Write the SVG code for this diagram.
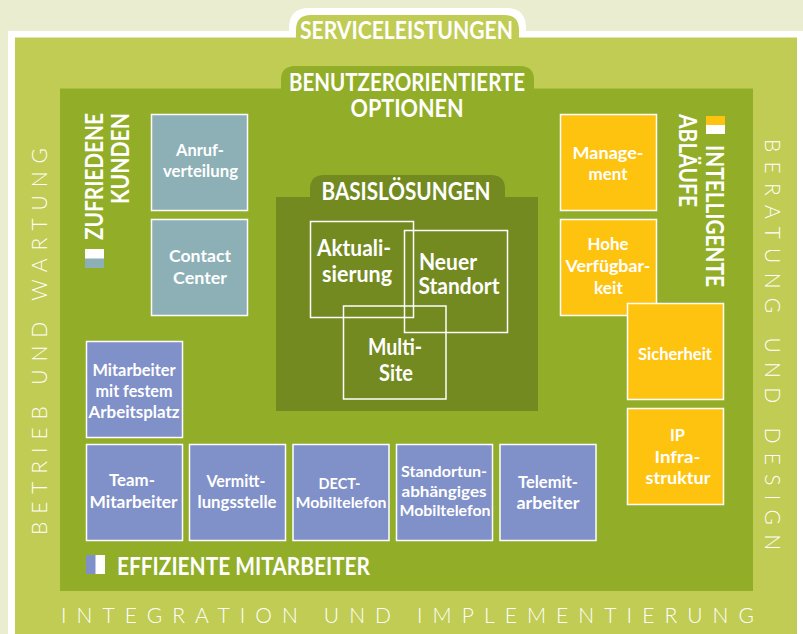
<svg xmlns="http://www.w3.org/2000/svg" width="803" height="634" viewBox="0 0 803 634">
<style>
text{font-family:"Lato","Liberation Sans",sans-serif;font-weight:700;fill:#fff;text-anchor:middle}
.h{font-size:24px}
.n{font-size:17px}
.m{font-size:15px}
.b{font-size:22px}
.t{font-size:24px;text-anchor:start}
.s{font-size:21px;font-weight:300;text-anchor:start}
.c{stroke:#fff;stroke-width:1.5}
.teal{fill:#8cb0b6}.or{fill:#fec30f}.bl{fill:#8090c8}
.box{fill:none;stroke:#fff;stroke-width:1.5}
</style>
<rect width="803" height="634" fill="#eaedcf"/>
<g id="serviceleistungen">
<path d="M8 634V31H289V28Q289 8 309 8H506Q526 8 526 28V31H803V634Z" fill="#fff"/>
<path d="M15 634V37.500H296V30Q296 15 311 15H504Q519 15 519 30V37.500H797V634Z" fill="#c1cc54"/>
<text class="h" x="406.500" y="39" textLength="213" lengthAdjust="spacingAndGlyphs">SERVICELEISTUNGEN</text>
</g>
<g id="optionen">
<path d="M60 591V88.500H281V80Q281 66 295 66H520Q534 66 534 80V88.500H753V591Z" fill="#92ae29"/>
<text class="h" x="407" y="91" textLength="236" lengthAdjust="spacingAndGlyphs">BENUTZERORIENTIERTE</text>
<text class="h" x="407" y="117" textLength="113" lengthAdjust="spacingAndGlyphs">OPTIONEN</text>
</g>
<g id="basisloesungen">
<path d="M276 411V197H310V189Q310 175 324 175H491Q505 175 505 189V197H538V411Z" fill="#738a20"/>
<text class="h" x="406" y="200" textLength="169" lengthAdjust="spacingAndGlyphs">BASISLÖSUNGEN</text>
</g>
<g id="aktualisierung"><rect class="box" x="310.500" y="221.500" width="103" height="96"/>
<text class="b" x="354" y="256" textLength="74" lengthAdjust="spacingAndGlyphs">Aktuali-</text><text class="b" x="357" y="282" textLength="70" lengthAdjust="spacingAndGlyphs">sierung</text></g>
<g id="neuer-standort"><rect class="box" x="404.500" y="230.500" width="103" height="102"/>
<text class="b" x="448" y="270" textLength="58" lengthAdjust="spacingAndGlyphs">Neuer</text><text class="b" x="459" y="294" textLength="81" lengthAdjust="spacingAndGlyphs">Standort</text></g>
<g id="multi-site"><rect class="box" x="343.500" y="306" width="102.500" height="93"/>
<text class="b" x="395" y="355" textLength="54" lengthAdjust="spacingAndGlyphs">Multi-</text><text class="b" x="396" y="381" textLength="34" lengthAdjust="spacingAndGlyphs">Site</text></g>

<g id="anrufverteilung"><rect class="c teal" x="151.500" y="114.500" width="96" height="96"/>
<text class="n" x="200" y="156" textLength="48" lengthAdjust="spacingAndGlyphs">Anruf-</text><text class="n" x="200.500" y="177" textLength="75" lengthAdjust="spacingAndGlyphs">verteilung</text></g>
<g id="contact-center"><rect class="c teal" x="151.500" y="219.500" width="96" height="96"/>
<text class="n" x="200" y="262" textLength="62" lengthAdjust="spacingAndGlyphs">Contact</text><text class="n" x="200" y="284" textLength="54" lengthAdjust="spacingAndGlyphs">Center</text></g>

<g id="management"><rect class="c or" x="560.500" y="114.500" width="96" height="96"/>
<text class="n" x="608" y="159" textLength="71" lengthAdjust="spacingAndGlyphs">Manage-</text><text class="n" x="608" y="180" textLength="39" lengthAdjust="spacingAndGlyphs">ment</text></g>
<g id="verfuegbarkeit"><rect class="c or" x="560.500" y="219.500" width="96" height="96"/>
<text class="n" x="608" y="250" textLength="41" lengthAdjust="spacingAndGlyphs">Hohe</text><text class="n" x="608" y="272" textLength="85" lengthAdjust="spacingAndGlyphs">Verfügbar-</text><text class="n" x="608.500" y="294" textLength="29" lengthAdjust="spacingAndGlyphs">keit</text></g>
<g id="sicherheit"><rect class="c or" x="627.500" y="303.500" width="96" height="96"/>
<text class="n" x="675" y="360" textLength="74" lengthAdjust="spacingAndGlyphs">Sicherheit</text></g>
<g id="ip-infrastruktur"><rect class="c or" x="627.500" y="408.500" width="96" height="96"/>
<text class="n" x="677.500" y="441" textLength="15" lengthAdjust="spacingAndGlyphs">IP</text><text class="n" x="677.500" y="463" textLength="46" lengthAdjust="spacingAndGlyphs">Infra-</text><text class="n" x="678" y="484" textLength="65" lengthAdjust="spacingAndGlyphs">struktur</text></g>

<g id="mitarbeiter-fest"><rect class="c bl" x="86.500" y="341.500" width="96" height="96"/>
<text class="n" x="134" y="376" textLength="83" lengthAdjust="spacingAndGlyphs">Mitarbeiter</text><text class="n" x="134" y="397" textLength="77" lengthAdjust="spacingAndGlyphs">mit festem</text><text class="n" x="134" y="418" textLength="91" lengthAdjust="spacingAndGlyphs">Arbeitsplatz</text></g>
<g id="team-mitarbeiter"><rect class="c bl" x="86.500" y="444.500" width="96" height="96"/>
<text class="n" x="132" y="486" textLength="46" lengthAdjust="spacingAndGlyphs">Team-</text><text class="n" x="133.500" y="508" textLength="88" lengthAdjust="spacingAndGlyphs">Mitarbeiter</text></g>
<g id="vermittlungsstelle"><rect class="c bl" x="189.500" y="444.500" width="96" height="96"/>
<text class="n" x="236" y="487" textLength="59" lengthAdjust="spacingAndGlyphs">Vermitt-</text><text class="n" x="237" y="508" textLength="79" lengthAdjust="spacingAndGlyphs">lungsstelle</text></g>
<g id="dect-mobiltelefon"><rect class="c bl" x="293" y="444.500" width="96" height="96"/>
<text class="m" x="339.500" y="489" textLength="42" lengthAdjust="spacingAndGlyphs">DECT-</text><text class="m" x="341" y="508" textLength="91" lengthAdjust="spacingAndGlyphs">Mobiltelefon</text></g>
<g id="standortunabhaengig"><rect class="c bl" x="396.500" y="444.500" width="96" height="96"/>
<text class="m" x="444" y="477" textLength="86" lengthAdjust="spacingAndGlyphs">Standortun-</text><text class="m" x="444" y="497" textLength="85" lengthAdjust="spacingAndGlyphs">abhängiges</text><text class="m" x="445" y="516" textLength="91" lengthAdjust="spacingAndGlyphs">Mobiltelefon</text></g>
<g id="telemitarbeiter"><rect class="c bl" x="500" y="444.500" width="96" height="96"/>
<text class="n" x="548" y="488" textLength="60" lengthAdjust="spacingAndGlyphs">Telemit-</text><text class="n" x="548" y="509" textLength="63" lengthAdjust="spacingAndGlyphs">arbeiter</text></g>

<g id="label-kunden">
<rect x="85" y="249" width="19" height="10" fill="#fff"/><rect x="85" y="258.500" width="19" height="9.500" fill="#8cb0b6"/>
<text class="t" transform="translate(103 240) rotate(-90)" textLength="127" lengthAdjust="spacingAndGlyphs">ZUFRIEDENE</text>
<text class="t" transform="translate(129 204) rotate(-90)" textLength="91" lengthAdjust="spacingAndGlyphs">KUNDEN</text>
</g>
<g id="label-ablaeufe">
<rect x="706" y="116" width="19" height="9.500" fill="#fec30f"/><rect x="706" y="125" width="19" height="9" fill="#fff"/>
<text class="t" transform="translate(706 145) rotate(90)" textLength="142" lengthAdjust="spacingAndGlyphs">INTELLIGENTE</text>
<text class="t" transform="translate(679 114) rotate(90)" textLength="93" lengthAdjust="spacingAndGlyphs">ABLÄUFE</text>
</g>
<g id="label-mitarbeiter">
<rect x="86" y="555" width="10" height="19" fill="#8090c8"/><rect x="95.500" y="555" width="9.500" height="19" fill="#fff"/>
<text class="t" x="117" y="575" textLength="253" lengthAdjust="spacingAndGlyphs">EFFIZIENTE MITARBEITER</text>
</g>
<g id="ring-labels">
<text class="s" transform="translate(47 535) rotate(-90)" textLength="387">BETRIEB UND WARTUNG</text>
<text class="s" transform="translate(765 139) rotate(90)" textLength="411">BERATUNG UND DESIGN</text>
<text class="s" x="61" y="623" textLength="693">INTEGRATION UND IMPLEMENTIERUNG</text>
</g>
</svg>
